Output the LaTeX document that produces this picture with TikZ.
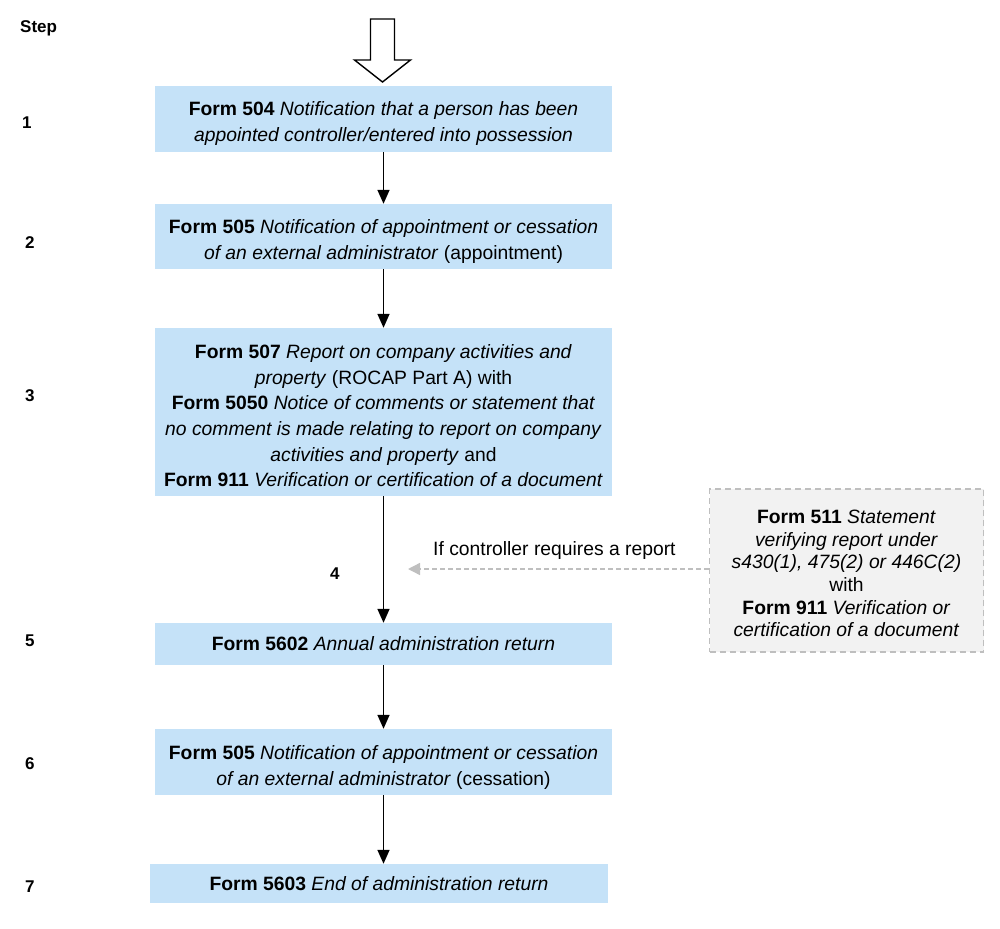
\documentclass[tikz,border=0pt]{standalone}
\usepackage{fontspec}
\setmainfont{Liberation Sans}
\usetikzlibrary{arrows.meta}
\definecolor{boxblue}{RGB}{197,226,248}
\definecolor{boxgray}{RGB}{242,242,242}
\definecolor{dashgray}{RGB}{191,191,191}
\newcommand{\lift}[1]{\rule{0pt}{#1}}
\begin{document}
\begin{tikzpicture}[x=1pt,y=-1pt,
  formbox/.style={rectangle, fill=boxblue, inner sep=0pt, align=center,
    font=\fontsize{19.3}{25.6}\selectfont, minimum width=457pt},
  sidebox/.style={rectangle, fill=boxgray, draw=dashgray, line width=1.3pt,
    dash pattern=on 6pt off 4pt,
    inner sep=0pt, align=center, font=\fontsize{19.3}{22.6}\selectfont,
    minimum width=274pt, minimum height=163pt},
  steplbl/.style={anchor=west, inner sep=0pt, font=\fontsize{17}{20}\selectfont\bfseries},
  flow/.style={-{Triangle[length=14pt,width=12pt]}, line width=1.6pt, black},
  dasharrow/.style={-{Triangle[length=12pt,width=12pt]}, line width=1.4pt, dashgray,
    dash pattern=on 5pt off 3pt},
  plain/.style={inner sep=0pt, font=\fontsize{19.3}{23}\selectfont}]
\useasboundingbox (0,0) rectangle (1000,928);

% hollow start arrow
\draw[line width=1.4pt, fill=white, line join=miter]
  (370.5,19) -- (394.5,19) -- (394.5,60) -- (410.5,60) -- (382.5,82)
  -- (354.5,60) -- (370.5,60) -- cycle;

% step labels
\node[steplbl] (step) at (20,28) {Step};
\node[steplbl] (s1) at (22,123) {1};
\node[steplbl] (s2) at (25,243) {2};
\node[steplbl] (s3) at (25,396) {3};
\node[steplbl] (s4) at (330,574) {4};
\node[steplbl] (s5) at (25,641) {5};
\node[steplbl] (s6) at (25,764) {6};
\node[steplbl] (s7) at (25,887) {7};

% form boxes
\node[formbox, minimum height=66pt] (b1) at (383.5,119)
  {\lift{23pt}\textbf{Form 504} \textit{Notification that a person has been}\\
   \textit{appointed controller/entered into possession}};
\node[formbox, minimum height=65pt] (b2) at (383.5,236.5)
  {\lift{24.5pt}\textbf{Form 505} \textit{Notification of appointment or cessation}\\
   \textit{of an external administrator} (appointment)};
\node[formbox, minimum height=168pt] (b3) at (383.5,412)
  {\lift{21.5pt}\textbf{Form 507} \textit{Report on company activities and}\\
   \textit{property} (ROCAP Part A) with\\
   \textbf{Form 5050} \textit{Notice of comments or statement that}\\
   \textit{no comment is made relating to report on company}\\
   \textit{activities and property} and\\
   \textbf{Form 911} \textit{Verification or certification of a document}};
\node[formbox, minimum height=42pt] (b5) at (383.5,644)
  {\textbf{Form 5602} \textit{Annual administration return}};
\node[formbox, minimum height=66pt] (b6) at (383.5,762)
  {\lift{25.5pt}\textbf{Form 505} \textit{Notification of appointment or cessation}\\
   \textit{of an external administrator} (cessation)};
\node[formbox, minimum width=458pt, minimum height=39pt] (b7) at (379,883.5)
  {\textbf{Form 5603} \textit{End of administration return}};

% side box
\node[sidebox] (b511) at (846.5,570.5)
  {\lift{19.5pt}\textbf{Form 511} \textit{Statement}\\
   \textit{verifying report under}\\
   \textit{s430(1), 475(2) or 446C(2)}\\
   with\\
   \textbf{Form 911} \textit{Verification or}\\
   \textit{certification of a document}};

\node[plain, anchor=west] (cond) at (433,551) {If controller requires a report};

% connectors
\draw[flow] (b1.south) -- (b2.north);
\draw[flow] (b2.south) -- (b3.north);
\draw[flow] (b3.south) -- (b5.north);
\draw[flow] (b5.south) -- (b6.north);
\draw[flow] (b6.south) -- (b6.south |- b7.north);
\coordinate (d4) at (408,569);
\draw[dasharrow] (b511.west |- d4) -- (d4);
\end{tikzpicture}
\end{document}
